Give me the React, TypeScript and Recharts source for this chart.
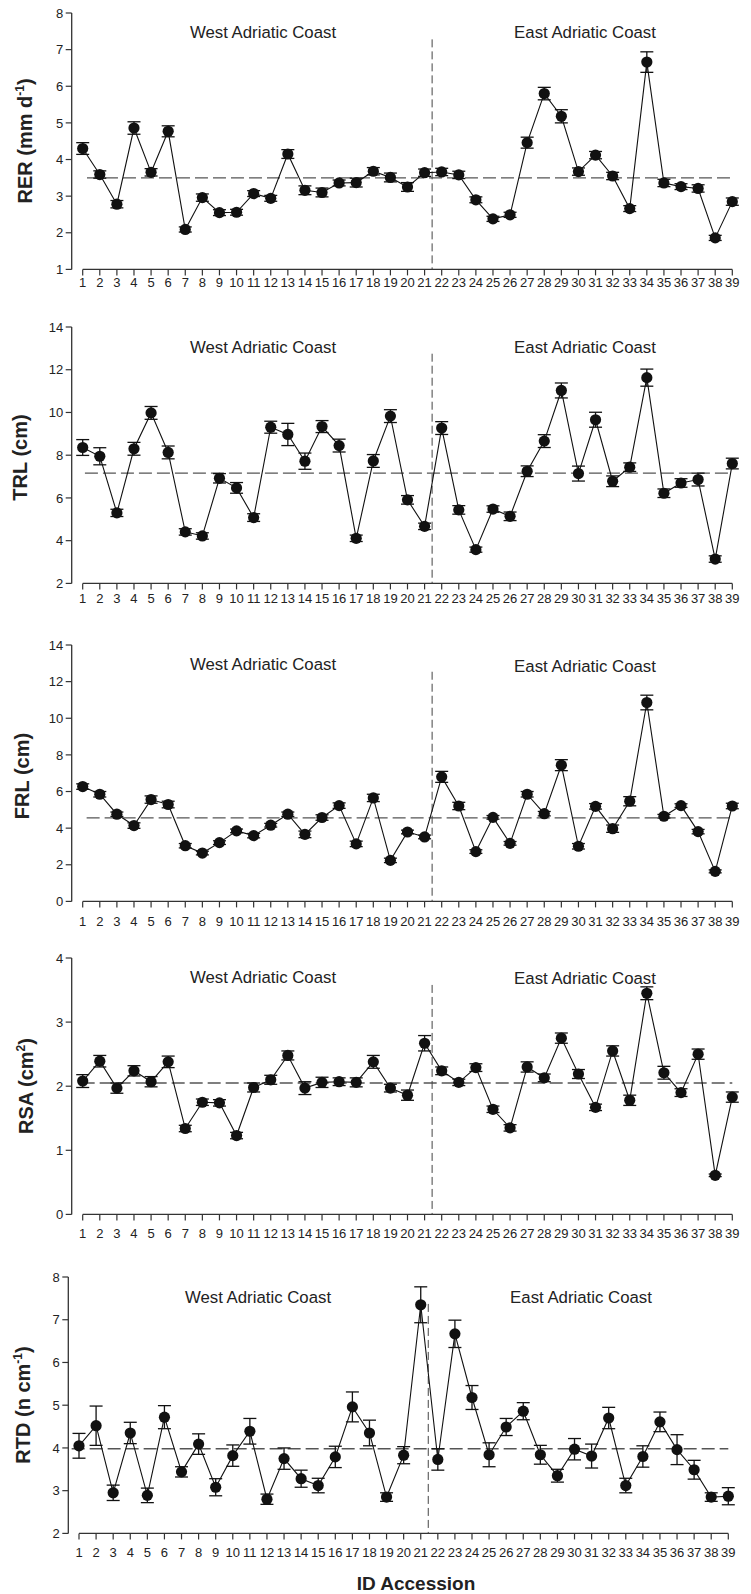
import React from 'react';
import { ComposedChart, Line, XAxis, YAxis, ErrorBar, ReferenceLine } from 'recharts';

const FONT = '"Liberation Sans", Arial, Helvetica, sans-serif';

// accession ids (x categories)
const accessions = [1, 2, 3, 4, 5, 6, 7, 8, 9, 10, 11, 12, 13, 14, 15, 16, 17, 18, 19, 20,
  21, 22, 23, 24, 25, 26, 27, 28, 29, 30, 31, 32, 33, 34, 35, 36, 37, 38, 39];

// RER (mm d-1)
const rer = [4.30, 3.59, 2.78, 4.86, 3.65, 4.77, 2.09, 2.96, 2.55, 2.56, 3.07, 2.94, 4.15, 3.16, 3.10, 3.36, 3.37, 3.68, 3.51, 3.25,
  3.64, 3.66, 3.58, 2.90, 2.38, 2.49, 4.46, 5.80, 5.18, 3.67, 4.12, 3.55, 2.66, 6.66, 3.36, 3.26, 3.21, 1.86, 2.85];
const rerSe = [0.16, 0.10, 0.10, 0.17, 0.10, 0.15, 0.07, 0.10, 0.08, 0.08, 0.08, 0.08, 0.12, 0.12, 0.12, 0.08, 0.12, 0.10, 0.12, 0.12,
  0.10, 0.10, 0.10, 0.08, 0.07, 0.07, 0.15, 0.17, 0.18, 0.10, 0.10, 0.10, 0.08, 0.28, 0.10, 0.08, 0.10, 0.07, 0.10];

// TRL (cm)
const trl = [8.36, 7.95, 5.30, 8.30, 9.98, 8.13, 4.41, 4.22, 6.92, 6.47, 5.08, 9.31, 8.97, 7.72, 9.34, 8.45, 4.11, 7.73, 9.83, 5.91,
  4.67, 9.27, 5.44, 3.58, 5.48, 5.14, 7.25, 8.66, 11.03, 7.14, 9.66, 6.78, 7.44, 11.63, 6.22, 6.70, 6.86, 3.14, 7.61];
const trlSe = [0.37, 0.40, 0.17, 0.30, 0.30, 0.30, 0.15, 0.15, 0.22, 0.25, 0.18, 0.28, 0.52, 0.38, 0.28, 0.30, 0.15, 0.30, 0.30, 0.20,
  0.15, 0.30, 0.20, 0.12, 0.15, 0.20, 0.25, 0.30, 0.35, 0.35, 0.35, 0.25, 0.20, 0.40, 0.20, 0.20, 0.30, 0.15, 0.25];

// FRL (cm)
const frl = [6.27, 5.85, 4.76, 4.14, 5.56, 5.29, 3.04, 2.64, 3.21, 3.85, 3.59, 4.16, 4.76, 3.66, 4.58, 5.23, 3.14, 5.65, 2.24, 3.79,
  3.52, 6.80, 5.21, 2.72, 4.59, 3.17, 5.85, 4.79, 7.44, 3.01, 5.19, 3.97, 5.47, 10.86, 4.65, 5.23, 3.81, 1.64, 5.21];
const frlSe = [0.15, 0.15, 0.12, 0.15, 0.20, 0.18, 0.12, 0.10, 0.10, 0.10, 0.12, 0.10, 0.12, 0.18, 0.15, 0.15, 0.15, 0.20, 0.12, 0.10,
  0.10, 0.30, 0.20, 0.10, 0.10, 0.10, 0.15, 0.12, 0.30, 0.15, 0.15, 0.20, 0.25, 0.40, 0.10, 0.10, 0.12, 0.08, 0.15];

// RSA (cm2)
const rsa = [2.08, 2.39, 1.97, 2.24, 2.07, 2.38, 1.34, 1.75, 1.74, 1.23, 1.98, 2.10, 2.48, 1.97, 2.06, 2.07, 2.06, 2.38, 1.97, 1.86,
  2.67, 2.24, 2.06, 2.29, 1.64, 1.35, 2.30, 2.13, 2.75, 2.19, 1.67, 2.55, 1.78, 3.45, 2.21, 1.90, 2.50, 0.61, 1.83];
const rsaSe = [0.10, 0.09, 0.08, 0.08, 0.08, 0.09, 0.05, 0.05, 0.05, 0.05, 0.07, 0.07, 0.07, 0.10, 0.08, 0.06, 0.07, 0.10, 0.06, 0.08,
  0.12, 0.06, 0.05, 0.06, 0.05, 0.05, 0.08, 0.06, 0.08, 0.07, 0.05, 0.08, 0.08, 0.10, 0.10, 0.06, 0.08, 0.02, 0.08];

// RTD (n cm-1)
const rtd = [4.05, 4.52, 2.95, 4.35, 2.89, 4.72, 3.44, 4.09, 3.08, 3.82, 4.39, 2.80, 3.75, 3.28, 3.12, 3.79, 4.96, 4.35, 2.85, 3.83,
  7.35, 3.73, 6.67, 5.18, 3.84, 4.49, 4.86, 3.84, 3.35, 3.97, 3.81, 4.70, 3.12, 3.80, 4.61, 3.96, 3.49, 2.85, 2.87];
const rtdSe = [0.29, 0.46, 0.18, 0.25, 0.17, 0.27, 0.12, 0.24, 0.20, 0.25, 0.30, 0.12, 0.25, 0.20, 0.17, 0.25, 0.35, 0.30, 0.10, 0.20,
  0.42, 0.25, 0.32, 0.28, 0.28, 0.20, 0.20, 0.22, 0.15, 0.25, 0.28, 0.25, 0.17, 0.25, 0.23, 0.35, 0.22, 0.10, 0.20];

// overall means (horizontal dashed lines)
const grandMeans = [3.5, 7.16, 4.56, 2.05, 3.98];

const rerTicks = [1, 2, 3, 4, 5, 6, 7, 8];
const trlTicks = [2, 4, 6, 8, 10, 12, 14];
const frlTicks = [0, 2, 4, 6, 8, 10, 12, 14];
const rsaTicks = [0, 1, 2, 3, 4];
const rtdTicks = [2, 3, 4, 5, 6, 7, 8];

const PLOT_H = 256.4;

const panels = [
  { values: rer, se: rerSe, ticks: rerTicks, mean: grandMeans[0], top: 12.7, axisX: 71.7, padL: 11, right: 18.7,
    meanStart: 1.25, vTop: 7.28, tickMargin: 2.8 },
  { values: trl, se: trlSe, ticks: trlTicks, mean: grandMeans[1], top: 326.7, axisX: 71.7, padL: 11, right: 18.7,
    meanStart: 1.13, vTop: 12.75, tickMargin: 4.3 },
  { values: frl, se: frlSe, ticks: frlTicks, mean: grandMeans[2], top: 645, axisX: 71.7, padL: 11, right: 18.7,
    meanStart: 1.23, vTop: 12.54, tickMargin: 9.8 },
  { values: rsa, se: rsaSe, ticks: rsaTicks, mean: grandMeans[3], top: 958.3, axisX: 71.7, padL: 11, right: 18.7,
    meanStart: 0.94, vTop: 3.58, tickMargin: 8.3 },
  { values: rtd, se: rtdSe, ticks: rtdTicks, mean: grandMeans[4], top: 1277.3, axisX: 68.3, padL: 10.7, right: 22.7,
    meanStart: 0.57, vTop: 7.37, tickMargin: 7.9 },
];

const titles = [
  { west: [263, 32], east: [585, 32] },
  { west: [263, 346.7], east: [585, 346.7] },
  { west: [263, 664], east: [585, 665.5] },
  { west: [263, 976.5], east: [585, 978] },
  { west: [258, 1297], east: [581, 1297] },
];

const Panel = ({ p }: { p: any }) => {
  const data = accessions.map((id, i) => ({ id, v: p.values[i], se: p.se[i] }));
  const lo = p.ticks[0];
  const hi = p.ticks[p.ticks.length - 1];
  return (
    <div style={{ position: 'absolute', left: 0, top: p.top - 10, width: 751, height: 300 }}>
      <ComposedChart width={751} height={300} data={data}
        margin={{ top: 10, right: p.right, bottom: 300 - 10 - PLOT_H - 30, left: 0 }}>
        <XAxis dataKey="id" type="number" domain={[1, 39]} ticks={accessions} interval={0}
          padding={{ left: p.padL, right: 0 }} axisLine={false} height={30}
          tickSize={6} tickMargin={p.tickMargin} tickLine={{ stroke: '#333', strokeWidth: 1.2 }}
          tick={{ fontSize: 13, fill: '#222', fontFamily: FONT }} />
        <YAxis type="number" domain={[lo, hi]} ticks={p.ticks} interval={0} width={p.axisX}
          axisLine={{ stroke: '#333', strokeWidth: 1.3 }} tickLine={{ stroke: '#333', strokeWidth: 1.2 }}
          tickSize={6} tickMargin={2.5} tick={{ fontSize: 13, fill: '#222', fontFamily: FONT }} />
        <ReferenceLine segment={[{ x: 1, y: lo }, { x: 39, y: lo }]} stroke="#333" strokeWidth={1.3} ifOverflow="visible" />
        <ReferenceLine segment={[{ x: p.meanStart, y: p.mean }, { x: 39, y: p.mean }]} stroke="#555"
          strokeWidth={1.4} strokeDasharray="13 5" ifOverflow="visible" />
        <ReferenceLine segment={[{ x: 21.44, y: p.vTop }, { x: 21.44, y: lo }]} stroke="#444"
          strokeWidth={1} strokeDasharray="8 4" ifOverflow="visible" />
        <Line dataKey="v" stroke="#111" strokeWidth={1.1} isAnimationActive={false}
          dot={{ r: 5.6, fill: '#111', stroke: '#111', strokeWidth: 0 }} activeDot={false}>
          <ErrorBar dataKey="se" direction="y" width={6.5} stroke="#111" strokeWidth={1.3} isAnimationActive={false} />
        </Line>
      </ComposedChart>
    </div>
  );
};

const YLabel = ({ x, y, main, sup, tail }: { x: number; y: number; main: string; sup?: string; tail?: string }) => (
  <text transform={`translate(${x},${y}) rotate(-90)`} textAnchor="middle" fontSize={20} fontWeight="bold"
    fontFamily={FONT} fill="#222">
    {main}
    {sup ? <tspan dy={-8} fontSize={12}>{sup}</tspan> : null}
    {sup ? <tspan dy={8}>{tail}</tspan> : tail}
  </text>
);

export default function App() {
  return (
    <div style={{ position: 'absolute', left: 0, top: 0, width: 751, height: 1594, background: '#fff' }}>
      {panels.map((p, i) => <Panel key={i} p={p} />)}
      <svg width={751} height={1594} style={{ position: 'absolute', left: 0, top: 0, pointerEvents: 'none' }}>
        {titles.map((t, i) => (
          <g key={i} fontFamily={FONT} fontSize={16.8} fill="#222" textAnchor="middle">
            <text x={t.west[0]} y={t.west[1] + 6}>West Adriatic Coast</text>
            <text x={t.east[0]} y={t.east[1] + 6}>East Adriatic Coast</text>
          </g>
        ))}
        <YLabel x={32} y={141} main="RER (mm d" sup="-1" tail=")" />
        <YLabel x={27} y={457.5} main="TRL (cm" tail=")" />
        <YLabel x={29} y={776} main="FRL (cm" tail=")" />
        <YLabel x={33} y={1086} main="RSA (cm" sup="2" tail=")" />
        <YLabel x={30} y={1405} main="RTD (n cm" sup="-1" tail=")" />
        <text x={416} y={1590} textAnchor="middle" fontSize={19} fontWeight="bold" fontFamily={FONT} fill="#222">
          ID Accession
        </text>
      </svg>
    </div>
  );
}
